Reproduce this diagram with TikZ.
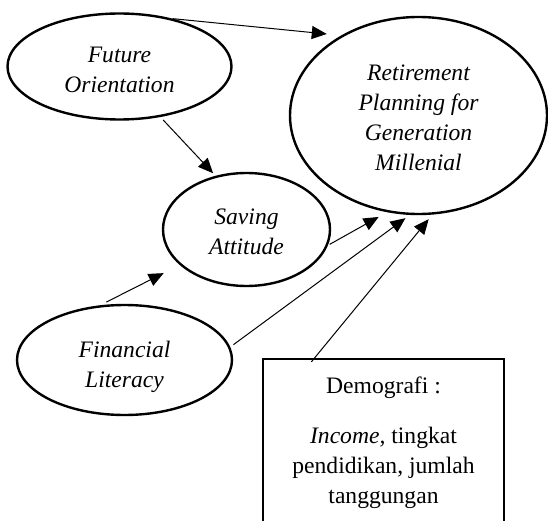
\documentclass[tikz,border=0pt]{standalone}
\usepackage{fontspec}
\setmainfont{Liberation Serif}
\usetikzlibrary{arrows.meta,shapes.geometric,calc}
\begin{document}
\begin{tikzpicture}[x=1pt,y=-1pt,
  ell/.style={ellipse,draw,line width=2.4pt,inner sep=0pt},
  etxt/.style={align=center,inner sep=0pt,font=\fontsize{23.6}{30}\selectfont\itshape},
  boxstyle/.style={draw,line width=2.4pt,inner sep=0pt},
  txt/.style={align=center,inner sep=0pt,font=\fontsize{23.6}{30}\selectfont},
  conn/.style={line width=1pt,-{Triangle[length=15pt,width=13pt]}},
]
\useasboundingbox (0,0) rectangle (548,521);
\clip (0,0) rectangle (548,521);

\node[ell,minimum width=224pt,minimum height=106pt] (fo) at (119.5,66.5) {};
\node[etxt] (fotext) at ([yshift=-3pt]fo.center) {Future\\Orientation};
\node[ell,minimum width=257pt,minimum height=197pt] (rp) at (418.5,115.5) {};
\node[etxt] (rptext) at ([yshift=-2pt]rp.center) {Retirement\\Planning for\\Generation\\Millenial};
\node[ell,minimum width=167pt,minimum height=113pt] (sa) at (246.5,229.5) {};
\node[etxt] (satext) at ([yshift=-2pt]sa.center) {Saving\\Attitude};
\node[ell,minimum width=215pt,minimum height=110pt] (fl) at (124.5,360) {};
\node[etxt] (fltext) at ([yshift=-7pt]fl.center) {Financial\\Literacy};

\node[boxstyle,minimum width=241pt,minimum height=200pt,anchor=north] (box) at (383.5,358) {};
\node[txt,anchor=north] (demo) at (383.5,377) {Demografi :\\[20pt]\textit{Income,} tingkat\\pendidikan, jumlah\\tanggungan};

\draw[conn,shorten >=14.5pt] (fo.42) -- (rp.134.4);
\draw[conn,shorten <=4pt,shorten >=3.5pt] (fo.-51.9) -- (sa.120.4);
\draw[conn,shorten <=7pt,shorten >=18pt] (fl.114.2) -- (sa.208.7);
\draw[conn,shorten <=2pt,shorten >=9.7pt] (sa.-11.7) -- (rp.252.6);
\draw[conn,shorten <=4pt,shorten >=5.4pt] (fl.7.4) -- (rp.265.9);
\draw[conn,shorten <=-5pt,shorten >=5.9pt] ($(box.north west)!0.2166!(box.north east)$) -- (rp.278.3);
\end{tikzpicture}
\end{document}
